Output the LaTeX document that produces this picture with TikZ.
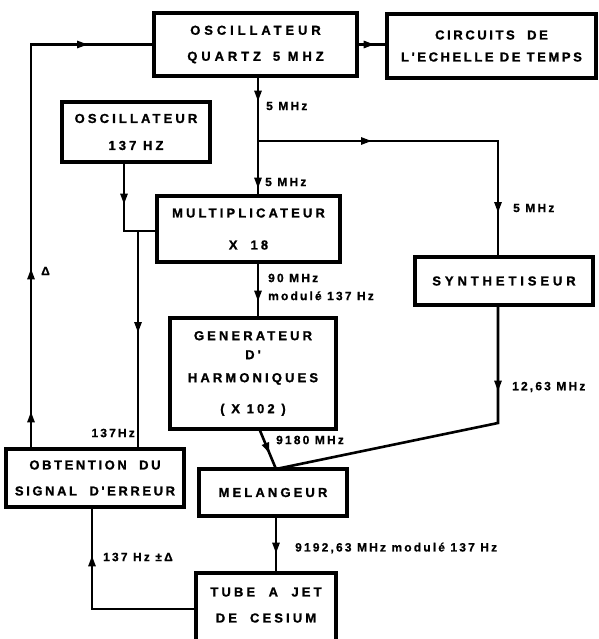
\documentclass[tikz,border=0pt]{standalone}
\usepackage{fontspec}
\setmainfont{Liberation Sans}
\newfontfamily\blocserre[LetterSpace=20, FakeBold=1.2]{Liberation Sans Bold}
\newfontfamily\blocfont[LetterSpace=24, FakeBold=1.2]{Liberation Sans Bold}
\newfontfamily\bloclarge[LetterSpace=30, FakeBold=1.2]{Liberation Sans Bold}
\newfontfamily\etiqfont[LetterSpace=18, FakeBold=0.8]{Liberation Sans Bold}
\usetikzlibrary{
	arrows.meta,
	decorations.markings
}

\begin{document}
\begin{tikzpicture}[
			x=1pt, y=-1pt,
			bloc/.style={draw, line width=3.2pt, inner sep=0pt, align=center,
				font=\blocfont\fontsize{13}{26}\selectfont},
			eti/.style={inner sep=0pt, anchor=west,
				font=\etiqfont\fontsize{12}{18}\selectfont},
			fl/.style={line width=2.6pt},
			fleche/.style={postaction={decorate, decoration={markings,
				mark=at position #1 with {\arrow{Triangle[length=11pt,width=7pt]}}}}}
		]
		\clip (0,0) rectangle (598,639);

		% blocs
		\node[bloc, font=\bloclarge\fontsize{13}{26}\selectfont, minimum width=203pt, minimum height=63pt] (quartz) at (255.5,44.5) {OSCILLATEUR\\QUARTZ\hspace{12pt}5 MHZ};
		\node[bloc, font=\blocserre\fontsize{13}{26}\selectfont, minimum width=209pt, minimum height=64pt] (circuits) at (491.5,46) {CIRCUITS\ \ DE\\[-4pt]L'ECHELLE DE TEMPS};
		\node[bloc, minimum width=148pt, minimum height=60pt] (osc) at (136,132) {OSCILLATEUR\\[1pt]137 HZ};
		\node[bloc, minimum width=183pt, minimum height=66pt] (mult) at (248.5,229) {MULTIPLICATEUR\\[6pt]X\quad 18};
		\node[bloc, font=\bloclarge\fontsize{13}{26}\selectfont, minimum width=178pt, minimum height=48pt] (synth) at (504,281) {SYNTHETISEUR};
		\node[bloc, minimum width=166pt, minimum height=111pt] (gen) at (253,373.5) {GENERATEUR\\[-7pt]D'\\[-3pt]HARMONIQUES\\[5pt](\ X\ 102\ )};
		\node[bloc, font=\blocserre\fontsize{13}{26}\selectfont, minimum width=178pt, minimum height=58pt] (obt) at (95,478) {OBTENTION\ \ DU\\SIGNAL\ \ D'ERREUR};
		\node[bloc, minimum width=148pt, minimum height=47pt] (mel) at (273,492.5) {MELANGEUR};
		\node[bloc, minimum width=140pt, minimum height=80pt, text depth=16pt] (tube) at (266,613) {TUBE\ \ A\ \ JET\\DE\quad CESIUM};

		% points de jonction
		\coordinate (cg) at (31,44.5);
		\coordinate (br) at (258,141);
		\coordinate (bd) at (498,141);
		\coordinate (jc) at (124,231);
		\coordinate (jd) at (138,231);
		\coordinate (jm) at (276,469);
		\coordinate (sb) at (498,423);
		\coordinate (tb) at (92,609);

		% liaisons
		\draw[fl, fleche=0.6] (quartz.east) -- (quartz.east -| circuits.west);
		\draw[fl, fleche=36pt, fleche=179pt, fleche=460pt] (obt.north -| cg) -- (cg) -- (quartz.west);
		\draw[fl, fleche=24pt, fleche=111pt] (quartz.south -| br) -- (mult.north -| br);
		\draw[fl, fleche=114pt, fleche=312pt] (br) -- (bd) -- (synth.north -| bd);
		\draw[fl, fleche=41pt, fleche=99pt] (osc.south -| jc) -- (jc) -- (mult.west |- jc);
		\draw[fl, fleche=102pt] (jd) -- (obt.north -| jd);
		\draw[fl, fleche=38pt] (mult.south -| br) -- (gen.north -| br);
		\draw[fl, fleche=0.6] ([xshift=7pt]gen.south) -- (jm);
		\draw[fl, fleche=85pt] (synth.south -| sb) -- (sb) -- (jm);
		\draw[fl, fleche=36pt] (mel.south -| jm) -- (tube.north -| jm);
		\draw[fl, fleche=156pt] (tube.west |- tb) -- (tb) -- (obt.south -| tb);

		% etiquettes
		\node[eti] (l5a) at (266,106) {5 MHz};
		\node[eti] (l5b) at (265,182) {5 MHz};
		\node[eti] (l5c) at (513,208) {5 MHz};
		\node[eti, align=left] (l90) at (268,287) {90 MHz\\modulé 137 Hz};
		\node[eti] (l1263) at (512,387) {12,63 MHz};
		\node[eti] (l9180) at (276,440) {9180 MHz};
		\node[eti] (l9192) at (295,548) {9192,63 MHz modulé 137 Hz};
		\node[eti, anchor=east] (l137) at (135,433) {137Hz};
		\node[eti] (lerr) at (103,557) {137 Hz ±Δ};
		\node[eti] (ldelta) at (41,271) {Δ};
	\end{tikzpicture}
\end{document}
